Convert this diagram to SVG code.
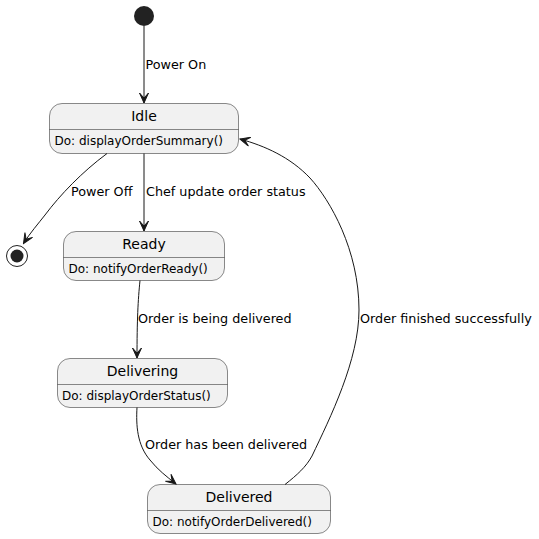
<svg xmlns="http://www.w3.org/2000/svg" width="539" height="539" viewBox="0 0 539 539">
  <style>
    text { font-family: "DejaVu Sans", "Liberation Sans", sans-serif; fill: #000000; }
    .state rect { fill: #F1F1F1; stroke: #181818; stroke-width: 0.5; }
    .state line { stroke: #181818; stroke-width: 0.5; }
    .name { font-size: 14px; text-anchor: middle; }
    .attr { font-size: 12px; }
    .edge { fill: none; stroke: #181818; stroke-width: 1; marker-end: url(#arrow); }
    .label { font-size: 12.75px; }
  </style>
  <defs>
    <marker id="arrow" markerWidth="12" markerHeight="10" refX="0" refY="0" viewBox="-11 -5 12 10" orient="auto" markerUnits="userSpaceOnUse">
      <path d="M0,0 L-10,-4.5 L-5,0 L-10,4.5 Z" fill="#181818" stroke="#181818" stroke-width="1" stroke-linejoin="miter"/>
    </marker>
  </defs>
  <rect width="539" height="539" fill="#FFFFFF"/>

  <!-- initial pseudo-state -->
  <g id="start">
    <circle cx="144" cy="16" r="10" fill="#222222"/>
  </g>

  <!-- final pseudo-state -->
  <g id="end">
    <circle cx="17" cy="256" r="10.5" fill="none" stroke="#222222" stroke-width="1"/>
    <circle cx="17" cy="256" r="6.5" fill="#222222"/>
  </g>

  <g id="Idle" class="state">
    <rect x="49.5" y="103.5" width="189" height="50" rx="12.5" ry="12.5"/>
    <line x1="49.5" y1="129.5" x2="238.5" y2="129.5"/>
    <text class="name" x="144" y="121">Idle</text>
    <text class="attr" x="54.5" y="145">Do: displayOrderSummary()</text>
  </g>

  <g id="Ready" class="state">
    <rect x="63.5" y="231.5" width="161" height="49" rx="12.5" ry="12.5"/>
    <line x1="63.5" y1="257.5" x2="224.5" y2="257.5"/>
    <text class="name" x="144" y="248.5">Ready</text>
    <text class="attr" x="68.5" y="272.5">Do: notifyOrderReady()</text>
  </g>

  <g id="Delivering" class="state">
    <rect x="57.5" y="358.5" width="170" height="49" rx="12.5" ry="12.5"/>
    <line x1="57.5" y1="384.5" x2="227.5" y2="384.5"/>
    <text class="name" x="142.5" y="376">Delivering</text>
    <text class="attr" x="62" y="399.5">Do: displayOrderStatus()</text>
  </g>

  <g id="Delivered" class="state">
    <rect x="147.5" y="484.5" width="183" height="49" rx="12.5" ry="12.5"/>
    <line x1="147.5" y1="510.5" x2="330.5" y2="510.5"/>
    <text class="name" x="239" y="502">Delivered</text>
    <text class="attr" x="152.5" y="526">Do: notifyOrderDelivered()</text>
  </g>

  <g id="connectors">
    <path class="edge" d="M144,26 L144,103"/>
    <text class="label" x="145.5" y="69">Power On</text>

    <path class="edge" d="M144,153.5 L144,231"/>
    <text class="label" x="146" y="196">Chef update order status</text>

    <path class="edge" d="M107,153.5 C82,172 60,195 45,215 C38,224 30,233 23.5,243.5"/>
    <text class="label" x="71" y="196">Power Off</text>

    <path class="edge" d="M140,280.5 C138,300 137,320 137,358"/>
    <text class="label" x="138" y="323">Order is being delivered</text>

    <path class="edge" d="M137,407.5 C136,425 137,445 150,460 C158,470 166,476 176,484"/>
    <text class="label" x="145" y="449">Order has been delivered</text>

    <path class="edge" d="M285,484.5 C297,475 306,467 312,456 C330,418 359,360 359,310 C359,250 330,200 310,178 C290,157 265,146 240,139"/>
    <text class="label" x="360" y="323">Order finished successfully</text>
  </g>
</svg>
